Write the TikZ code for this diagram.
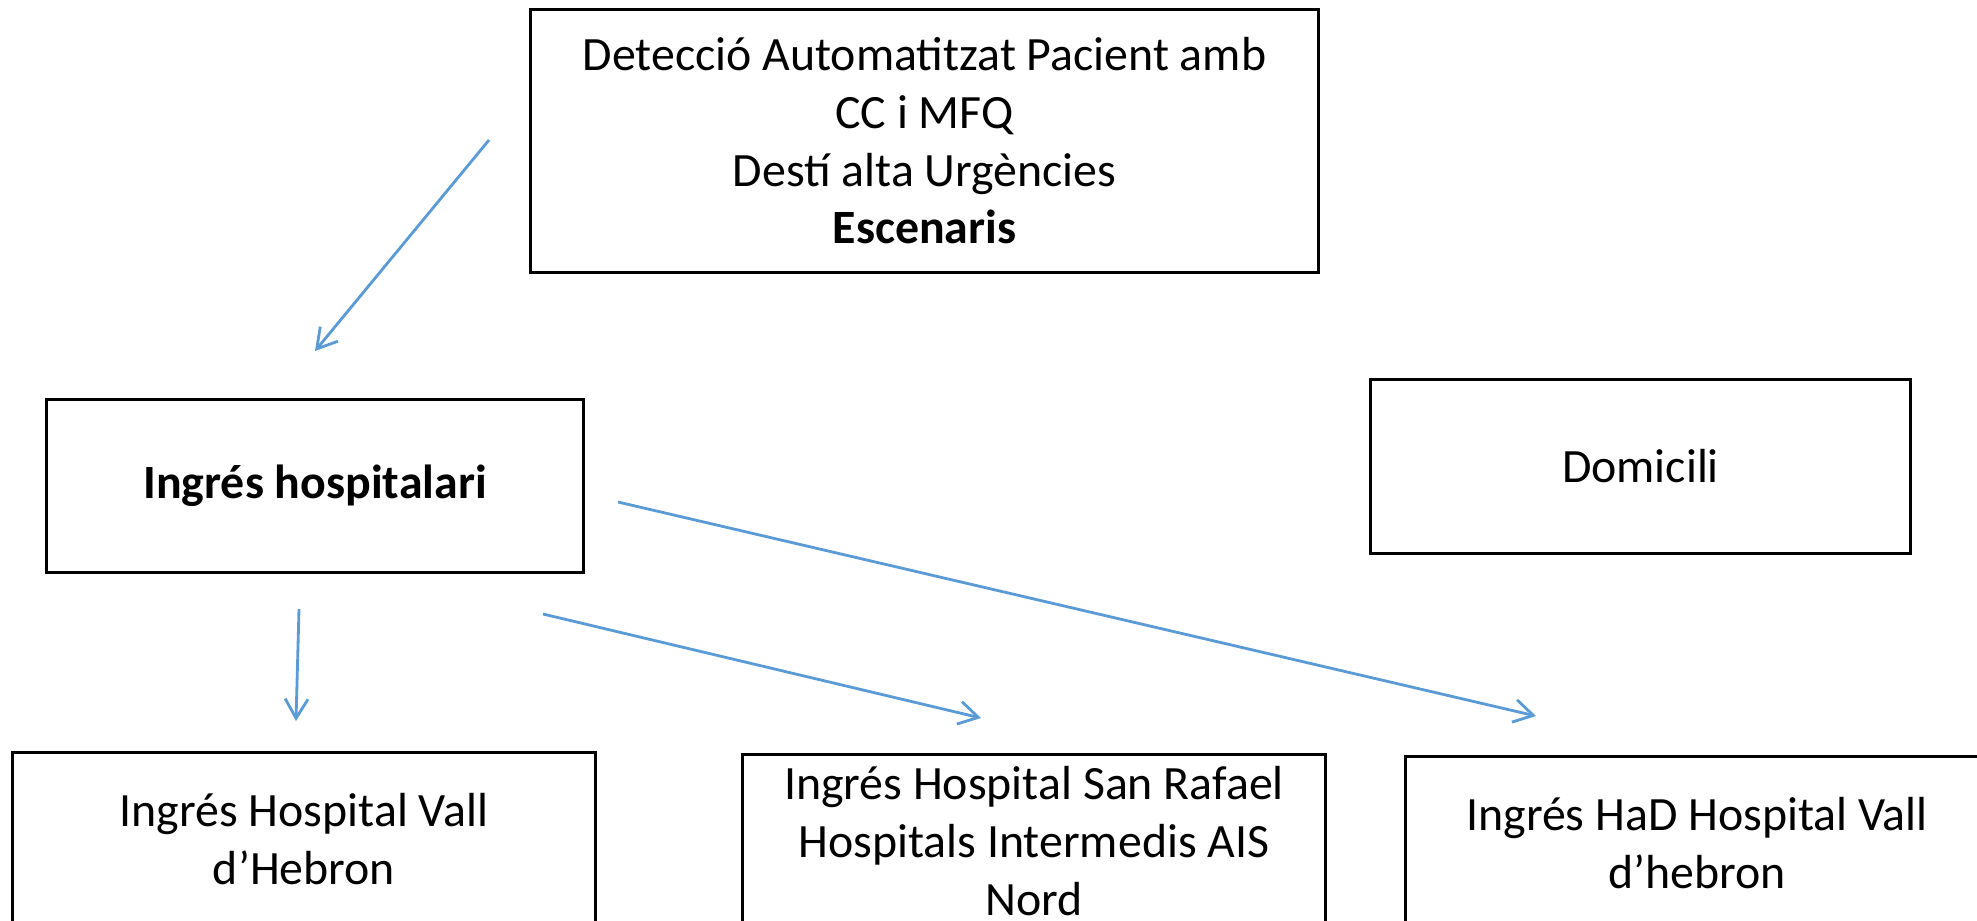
\documentclass[tikz,border=0pt]{standalone}
\usepackage{fontspec}
\setmainfont{Carlito}
\usetikzlibrary{arrows.meta}
\definecolor{linkblue}{HTML}{5B9BD5}
\tikzset{
    box/.style={draw=black, line width=0.85pt, align=center, inner sep=0pt,
        font=\fontsize{13.6}{16.4}\selectfont},
    link/.style={draw=linkblue, line width=0.8pt,
        -{Straight Barb[length=5.5pt,width=6.5pt]}},
}

\begin{document}
\begin{tikzpicture}[x=0.01cm, y=-0.01cm]
    \useasboundingbox (0,0) rectangle (1977,920);
    \clip (0,0) rectangle (1977,920);
    \node[box, minimum width=7.87cm, minimum height=2.62cm] (detect) at (924.5,141)
        {Detecció Automatitzat Pacient amb\\CC i MFQ\\Destí alta Urgències\\\textbf{Escenaris}};
    \node[box, minimum width=5.36cm, minimum height=1.72cm] (hosp) at (315,486) {\textbf{Ingrés hospitalari}};
    \node[box, minimum width=5.39cm, minimum height=1.73cm] (home) at (1640.5,466.5) {Domicili};
    \node[box, minimum width=5.82cm, minimum height=1.72cm] (vall) at (304,839) {Ingrés Hospital Vall\\d’Hebron};
    \node[box, minimum width=5.82cm, minimum height=1.72cm] (rafael) at (1034,841)
        {Ingrés Hospital San Rafael\\Hospitals Intermedis AIS\\Nord};
    \node[box, minimum width=5.82cm, minimum height=1.72cm] (had) at (1697,843) {Ingrés HaD Hospital Vall\\d’hebron};
    % free ends of the arrows
    \coordinate (a1) at (489,140);  \coordinate (b1) at (315,351);
    \coordinate (a2) at (299,609);  \coordinate (b2) at (296,721);
    \coordinate (a3) at (543,614);  \coordinate (b3) at (981,718);
    \coordinate (a4) at (618,502);  \coordinate (b4) at (1536,716);
    \foreach \i in {1,...,4}
        \draw[link] (a\i) -- (b\i);
\end{tikzpicture}
\end{document}
